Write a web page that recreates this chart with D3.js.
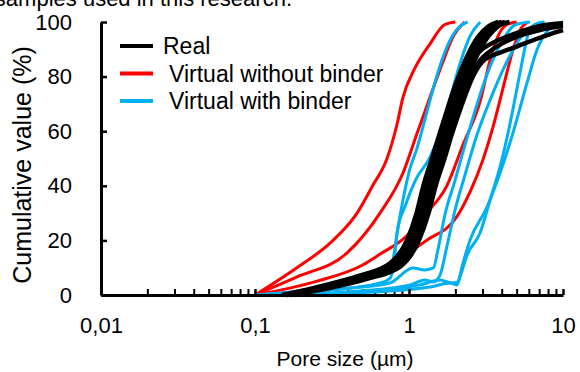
<!DOCTYPE html>
<html>
<head>
<meta charset="utf-8">
<script src="https://cdnjs.cloudflare.com/ajax/libs/d3/7.8.5/d3.min.js"></script>
<style>
  body { margin: 0; background: #fff; }
  text { font-family: "Liberation Sans", Arial, sans-serif; fill: #000; }
</style>
</head>
<body>
<div id="canvas"></div>
<script>
// tick labels and legend
const sizeTicks = [0.01, 0.1, 1, 10];
const valueTicks = [0, 20, 40, 60, 80, 100];
const seriesNames = ["Real", "Virtual without binder", "Virtual with binder"];
const seriesColors = ["#000000", "#ff0000", "#00b0f0"];

// [pore size (um), cumulative value (%)]
const realCurves = [
    [[0.15,0],[0.29,3.7],[0.47,7],[0.75,11.5],[0.97,20],[1.12,30],[1.24,40],[1.41,50],[1.58,59],[1.75,67],[1.92,74],[2.28,85],[2.8,94.5],[3.3,98.5],[3.8,100]],
    [[0.16,0],[0.3,3.7],[0.49,7],[0.78,11],[1.02,20],[1.17,30],[1.3,40],[1.48,50],[1.66,59],[1.84,67],[2.01,74],[2.4,85],[2.95,94.5],[3.45,98.5],[4.0,100]],
    [[0.16,0],[0.31,3.5],[0.5,6.6],[0.81,11],[1.06,20],[1.22,30],[1.36,40],[1.55,50],[1.74,59],[1.92,67],[2.1,74],[2.5,85],[3.1,94.5],[3.6,98.5],[4.2,100]],
    [[0.17,0],[0.32,3.3],[0.52,6.3],[0.84,10.5],[1.11,20],[1.28,30],[1.43,40],[1.63,50],[1.83,59],[2.02,67],[2.2,74],[2.62,85],[3.25,94.5],[3.8,98.5],[4.5,100]],
    [[0.18,0],[0.33,3],[0.54,6],[0.88,10.5],[1.16,20],[1.34,30],[1.49,40],[1.7,50],[1.9,59],[2.12,67],[2.35,74],[2.6,80],[3.0,85.5],[4.0,89],[5.0,91],[6.5,93.5],[8.2,95.5],[10,97]],
    [[0.17,0],[0.32,3.3],[0.52,6.3],[0.85,10.5],[1.12,20],[1.3,30],[1.46,40],[1.66,50],[1.86,59],[2.07,67],[2.25,74],[2.55,81],[2.9,86],[3.4,89.5],[4.7,94],[7.0,97],[10,98.5]],
    [[0.16,0],[0.31,3.5],[0.51,6.5],[0.83,11],[1.09,20],[1.25,30],[1.4,40],[1.59,50],[1.78,59],[1.97,67],[2.15,74],[2.45,83],[2.8,88.5],[3.4,92],[4.5,95],[7,98.5],[10,99.5]]
];

const noBinderCurves = [
    [[0.1,0],[0.187,10],[0.307,19],[0.46,30],[0.58,40],[0.72,50],[0.84,63],[0.91,72],[1.09,83],[1.37,92],[1.7,99],[2.0,100]],
    [[0.1,0],[0.187,6.6],[0.396,15.4],[0.648,30],[0.914,44.7],[1.13,59.3],[1.37,72.5],[1.65,85],[1.95,95],[2.3,100]],
    [[0.1,0],[0.25,5],[0.5,11],[0.65,15],[0.94,21],[1.3,30],[1.76,40],[2.24,55],[2.9,71],[3.36,86],[3.8,95],[4.3,99],[5.0,100]],
    [[0.1,0],[0.4,4.5],[0.84,12.8],[1.3,20],[2.04,28.6],[2.5,38],[3.02,49.5],[3.45,60],[3.9,71.4],[4.3,81],[4.73,89.7],[5.26,97],[5.9,100]]
];

const binderCurves = [
    [[0.1,0],[0.264,2.6],[0.414,5.1],[0.534,8],[0.648,7],[0.75,8.4],[0.787,12.8],[0.85,25],[0.914,34.8],[1.0,45],[1.13,54],[1.25,63],[1.37,71.4],[1.55,82],[1.8,92],[2.1,98],[2.4,100]],
    [[0.1,0],[0.307,1.8],[0.648,4.4],[0.75,6],[0.8,12],[0.836,22.7],[0.95,33],[1.1,42],[1.37,50.5],[1.6,60],[1.85,72],[2.15,85],[2.5,95],[2.9,100]],
    [[0.1,0],[0.356,2.2],[0.75,4.4],[1.06,9.9],[1.27,9.2],[1.44,9.9],[1.54,16.5],[1.71,29.3],[1.99,42],[2.31,55],[2.7,68],[3.2,80.6],[3.9,91.6],[4.9,99],[6.1,100]],
    [[0.17,0],[0.48,1.5],[1.015,3.7],[1.27,5.5],[1.44,4.8],[1.59,7.3],[1.77,18.3],[1.99,31.1],[2.31,44],[2.76,58.6],[3.36,71.4],[4.2,84],[5.26,94],[6.58,99],[7.6,100]],
    [[0.196,0],[0.648,1.8],[1.18,3.7],[1.59,5.5],[1.89,4.4],[2.08,4.8],[2.14,6.6],[2.4,15],[2.89,22.7],[3.36,34.8],[3.9,46.9],[4.5,62],[5.0,75],[5.5,87],[5.9,95],[6.5,99],[7.5,100]],
    [[0.228,0],[0.75,1.5],[1.37,2.9],[1.85,4.4],[2.04,3.7],[2.08,4.4],[2.21,10.3],[2.49,20.1],[3.21,32.2],[3.9,44.7],[4.73,59.3],[5.84,77.7],[6.8,90],[8.0,97],[10,100]]
];

// set the dimensions and margins of the graph
const margin = {top: 22, right: 17, bottom: 77, left: 101},
    width = 580 - margin.left - margin.right,
    height = 372 - margin.top - margin.bottom;

const root = d3.select("#canvas")
    .append("svg")
    .attr("width", 580)
    .attr("height", 372);

// caption line cut off at the top of the picture
root.append("text")
    .attr("x", 292)
    .attr("y", 6)
    .attr("text-anchor", "end")
    .style("font-size", "22px")
    .text("samples used in this research.");

const svg = root.append("g")
    .attr("transform", "translate(" + margin.left + "," + margin.top + ")");

const x = d3.scaleLog()
    .domain([0.01, 10])
    .range([0, width]);

const y = d3.scaleLinear()
    .domain([0, 100])
    .range([height, 0]);

// minor ticks 2..9 in every decade
const minorTicks = [];
sizeTicks.slice(0, -1).forEach(function(t) {
    d3.range(2, 10).forEach(function(k) { minorTicks.push(t * k); });
});

svg.append("g")
    .attr("class", "minor")
    .attr("transform", "translate(0," + height + ")")
    .call(d3.axisBottom(x).tickValues(minorTicks).tickSize(-6).tickSizeOuter(0).tickFormat(""))
    .call(g => g.select(".domain").remove())
    .call(g => g.selectAll("line").attr("stroke-width", 2));

// curves
const line = d3.line()
    .x(d => x(d[0]))
    .y(d => y(d[1]))
    .curve(d3.curveMonotoneX);

const groups = [
    {curves: noBinderCurves, color: seriesColors[1], w: 3},
    {curves: binderCurves, color: seriesColors[2], w: 3},
    {curves: realCurves, color: seriesColors[0], w: 4.5}
];
groups.forEach(function(grp) {
    svg.append("g")
        .selectAll("path")
        .data(grp.curves)
        .enter()
        .append("path")
        .attr("d", line)
        .attr("fill", "none")
        .attr("stroke", grp.color)
        .attr("stroke-width", grp.w)
        .attr("stroke-linejoin", "round");
});

// axes
const xAxis = svg.append("g")
    .attr("transform", "translate(0," + height + ")")
    .call(d3.axisBottom(x).tickValues(sizeTicks).tickSize(-6).tickSizeOuter(0).tickPadding(22)
        .tickFormat(d => String(d).replace(".", ",")));

const yAxis = svg.append("g")
    .call(d3.axisLeft(y).tickValues(valueTicks).tickSize(-6).tickSizeOuter(0).tickPadding(29));

[xAxis, yAxis].forEach(function(ax) {
    ax.select(".domain").attr("stroke-width", 3);
    ax.selectAll("line").attr("stroke-width", 2.5);
    ax.selectAll("text")
        .style("font-size", "22px")
        .style("font-family", "'Liberation Sans', Arial, sans-serif");
});

// axis titles
svg.append("text")
    .attr("text-anchor", "middle")
    .attr("x", 345 - margin.left)
    .attr("y", 366 - margin.top)
    .style("font-size", "21px")
    .text("Pore size (µm)");

svg.append("text")
    .attr("text-anchor", "middle")
    .attr("transform", "rotate(-90)")
    .attr("x", -(165 - margin.top))
    .attr("y", 31 - margin.left)
    .style("font-size", "25px")
    .text("Cumulative value (%)");

// legend
const legend = svg.append("g")
    .attr("transform", "translate(19,24)");
seriesNames.forEach(function(name, i) {
    const row = legend.append("g")
        .attr("transform", "translate(0," + (i * 27.5) + ")");
    row.append("line")
        .attr("x1", 0).attr("x2", 33)
        .attr("y1", 0).attr("y2", 0)
        .attr("stroke", seriesColors[i])
        .attr("stroke-width", 4);
    row.append("text")
        .attr("x", i === 0 ? 43 : 49)
        .attr("dy", "0.35em")
        .style("font-size", "23px")
        .text(name);
});
</script>
</body>
</html>
